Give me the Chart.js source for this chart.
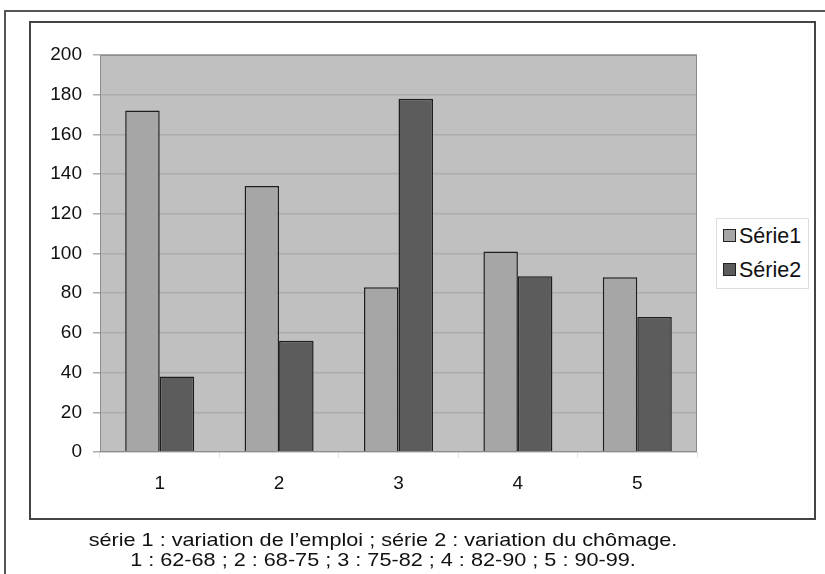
<!DOCTYPE html>
<html>
<head>
<meta charset="utf-8">
<script src="https://cdn.jsdelivr.net/npm/chart.js@4.4.0/dist/chart.umd.min.js"></script>
<style>
  html, body { margin: 0; padding: 0; background: #fff; }
  body { width: 825px; height: 574px; position: relative; overflow: hidden; font-family: "Liberation Sans", Arial, sans-serif; }
  #outer { position: absolute; left: 4px; top: 10px; width: 900px; height: 700px; border: 2px solid #555; box-sizing: border-box; }
  #inner { position: absolute; left: 29px; top: 21px; width: 787px; height: 499px; border: 2px solid #444; box-sizing: border-box; background: #fff; }
  #wrap { position: absolute; left: 0; top: 0; width: 825px; height: 574px; }
  #legend { position: absolute; left: 716px; top: 218px; width: 93px; height: 71px; border: 1px solid #ddd; box-sizing: border-box; background: #fff; }
  .li { position: absolute; left: 6px; height: 24px; font-size: 21.5px; color: #111; line-height: 24px; white-space: nowrap; }
  .sw { display: inline-block; width: 11px; height: 11px; border: 1px solid #222; vertical-align: middle; margin-right: 3px; position: relative; top: -2px; }
  #caption { position: absolute; left: 0; width: 766px; top: 530px; text-align: center; font-size: 19px; line-height: 19.5px; color: #111; transform: scaleX(1.14); transform-origin: 383px 0; white-space: nowrap; }
</style>
</head>
<body>
<div id="outer"></div>
<div id="inner"></div>
<div id="wrap"><canvas id="c" width="825" height="574"></canvas></div>
<div id="legend"></div>
<div id="caption">série 1 : variation de l’emploi ; série 2 : variation du chômage.<br>1 : 62-68 ; 2 : 68-75 ; 3 : 75-82 ; 4 : 82-90 ; 5 : 90-99.</div>
<script>
const categories = ["1", "2", "3", "4", "5"];
const serie1 = [172, 134, 83, 101, 88];
const serie2 = [38, 56, 178, 88.5, 68];
const seriesNames = ["Série1", "Série2"];
const yTicks = [0, 20, 40, 60, 80, 100, 120, 140, 160, 180, 200];

const plotBg = {
  id: 'plotBg',
  beforeDraw(chart) {
    const a = chart.chartArea, ctx = chart.ctx;
    ctx.save();
    ctx.fillStyle = '#c0c0c0';
    ctx.fillRect(a.left, a.top, a.right - a.left, a.bottom - a.top);
    ctx.restore();
  },
  afterDraw(chart) {
    const a = chart.chartArea, ctx = chart.ctx;
    ctx.save();
    ctx.strokeStyle = '#8c8c8c';
    ctx.lineWidth = 1;
    ctx.strokeRect(a.left + 0.5, a.top + 0.5, a.right - a.left - 1, a.bottom - a.top - 1);
    ctx.restore();
  }
};

const chart = new Chart(document.getElementById('c'), {
  type: 'bar',
  data: {
    labels: categories,
    datasets: [
      { label: seriesNames[0], data: serie1, backgroundColor: '#a6a6a6', borderColor: '#1e1e1e', borderWidth: 1.5, categoryPercentage: 0.578, barPercentage: 1 },
      { label: seriesNames[1], data: serie2, backgroundColor: '#5c5c5c', borderColor: '#1e1e1e', borderWidth: 1.5, categoryPercentage: 0.578, barPercentage: 1 }
    ]
  },
  options: {
    responsive: false,
    animation: false,
    devicePixelRatio: 1,
    layout: { padding: { left: 30, top: 55, right: 128, bottom: 56 } },
    plugins: { legend: { display: false }, tooltip: { enabled: false } },
    scales: {
      x: {
        afterFit(s) { s.height = 66; },
        grid: { display: true, drawOnChartArea: false, color: '#e4e4e4', tickLength: 6, offset: true },
        border: { display: false },
        ticks: { color: '#111', font: { family: 'Liberation Sans', size: 19 }, padding: 14 }
      },
      y: {
        min: 0, max: 200,
        afterFit(s) { s.width = 70; },
        afterBuildTicks(s) { s.ticks = yTicks.map(v => ({ value: v })); },
        grid: { color: '#acacac', lineWidth: 1.5, tickLength: 7 },
        border: { display: false },
        ticks: { color: '#111', font: { family: 'Liberation Sans', size: 19 }, padding: 11 }
      }
    }
  },
  plugins: [plotBg]
});

// legend built from chart's own legend items
const items = Chart.defaults.plugins.legend.labels.generateLabels(chart);
const lg = document.getElementById('legend');
items.forEach((it, i) => {
  const d = document.createElement('div');
  d.className = 'li';
  d.style.top = (5 + i * 34) + 'px';
  const sw = document.createElement('span');
  sw.className = 'sw';
  sw.style.background = it.fillStyle;
  d.appendChild(sw);
  d.appendChild(document.createTextNode(it.text));
  lg.appendChild(d);
});
</script>
</body>
</html>
